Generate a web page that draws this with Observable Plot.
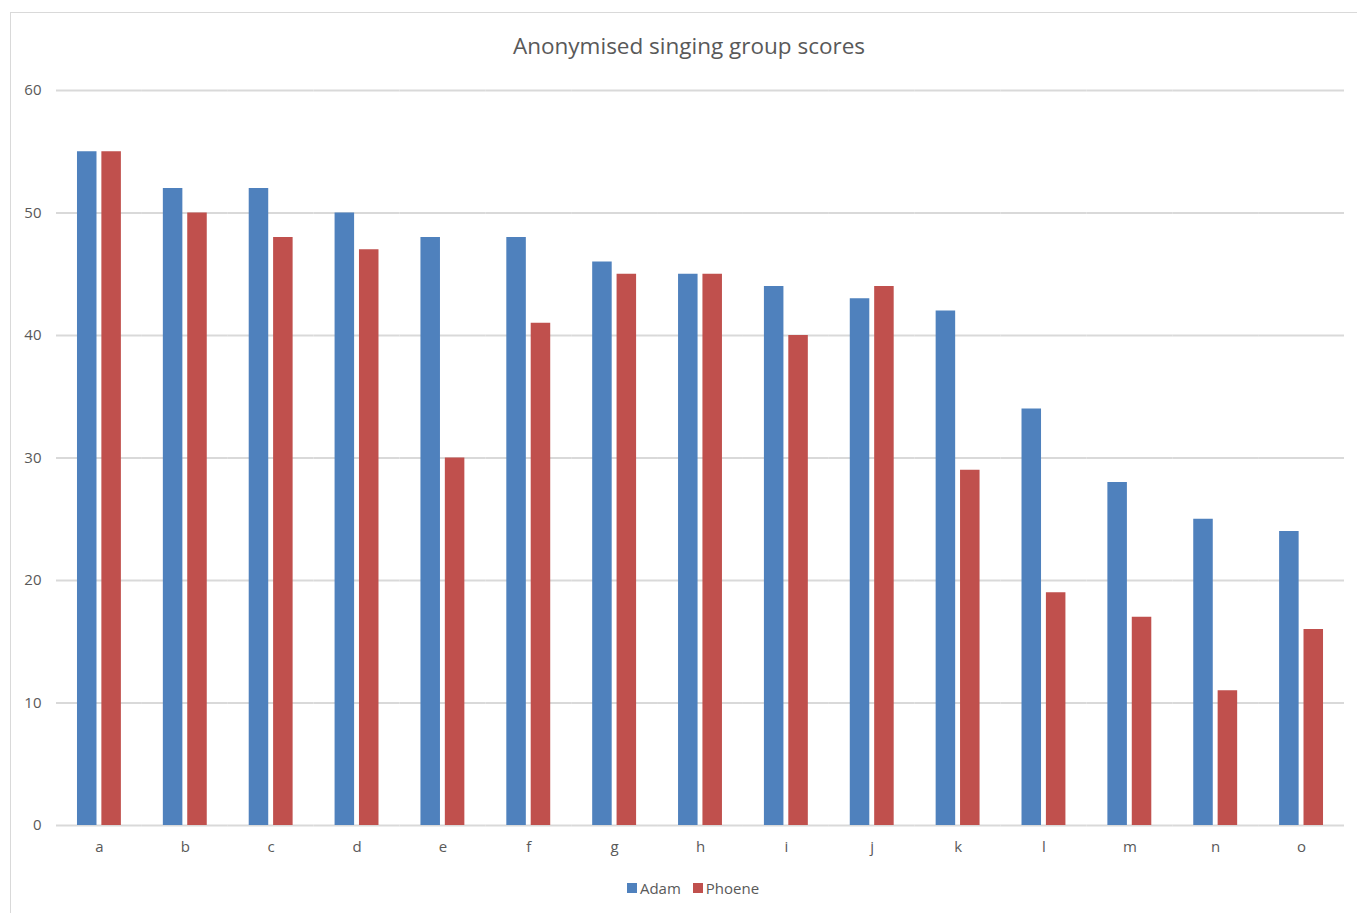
<!DOCTYPE html>
<html>
<head>
<meta charset="utf-8">
<script src="https://cdn.jsdelivr.net/npm/d3@7"></script>
<script src="https://cdn.jsdelivr.net/npm/@observablehq/plot@0.6"></script>
<style>
  html, body { margin: 0; padding: 0; background: #fff; overflow: hidden; width: 1357px; height: 913px; }
  #frame { position: absolute; left: 10px; top: 12px; width: 1360px; height: 920px; border: 1.5px solid #d9d9d9; box-sizing: border-box; }
  #title { position: absolute; left: 0; width: 1378px; top: 30px; text-align: center; font-family: "Open Sans", sans-serif; font-size: 22.5px; color: #595959; }
  #chart { position: absolute; left: 0; top: 70px; }
  #legend { position: absolute; left: 0; width: 1386px; top: 877px; text-align: center; font-family: "Open Sans", sans-serif; font-size: 15px; color: #595959; }
  #legend span.item { display: inline-flex; align-items: center; margin: 0 6px; }
  #legend span.sw { display: inline-block; width: 10px; height: 10px; margin-right: 3px; }
</style>
</head>
<body>
<div id="frame"></div>
<div id="title">Anonymised singing group scores</div>
<div id="chart"></div>
<div id="legend"></div>
<script>
const categories = ["a","b","c","d","e","f","g","h","i","j","k","l","m","n","o"];
const series = ["Adam", "Phoene"];
const adam =   [55, 52, 52, 50, 48, 48, 46, 45, 44, 43, 42, 34, 28, 25, 24];
const phoene = [55, 50, 48, 47, 30, 41, 45, 45, 40, 44, 29, 19, 17, 11, 16];
const yTicks = [0, 10, 20, 30, 40, 50, 60];
const colors = ["#4f81bd", "#c0504d"];

const data = [];
categories.forEach((c, i) => {
  data.push({cat: c, series: "Adam", value: adam[i]});
  data.push({cat: c, series: "Phoene", value: phoene[i]});
});

const chart = Plot.plot({
  width: 1357,
  height: 790,
  marginTop: 20,
  marginBottom: 35,
  marginLeft: 56,
  marginRight: 13,
  style: { fontFamily: "'Open Sans', sans-serif", fontSize: "15px", color: "#595959", background: "transparent" },
  fx: { domain: categories, padding: 0, round: false, label: null, axis: "bottom", tickSize: 0, tickPadding: 16 },
  x: { domain: series, paddingInner: 0.2, paddingOuter: 0.86, round: false, axis: null },
  y: { domain: [0, 60], ticks: yTicks, label: null, tickSize: 0, tickPadding: 15 },
  color: { domain: series, range: colors },
  marks: [
    Plot.ruleY(yTicks, { stroke: "#d9d9d9", strokeWidth: 2 }),
    Plot.barY(data, { fx: "cat", x: "series", y: "value", fill: "series" })
  ]
});
document.getElementById("chart").appendChild(chart);

const legend = document.getElementById("legend");
series.forEach((s, i) => {
  const item = document.createElement("span");
  item.className = "item";
  const sw = document.createElement("span");
  sw.className = "sw";
  sw.style.background = colors[i];
  item.appendChild(sw);
  item.appendChild(document.createTextNode(s));
  legend.appendChild(item);
});
</script>
</body>
</html>
